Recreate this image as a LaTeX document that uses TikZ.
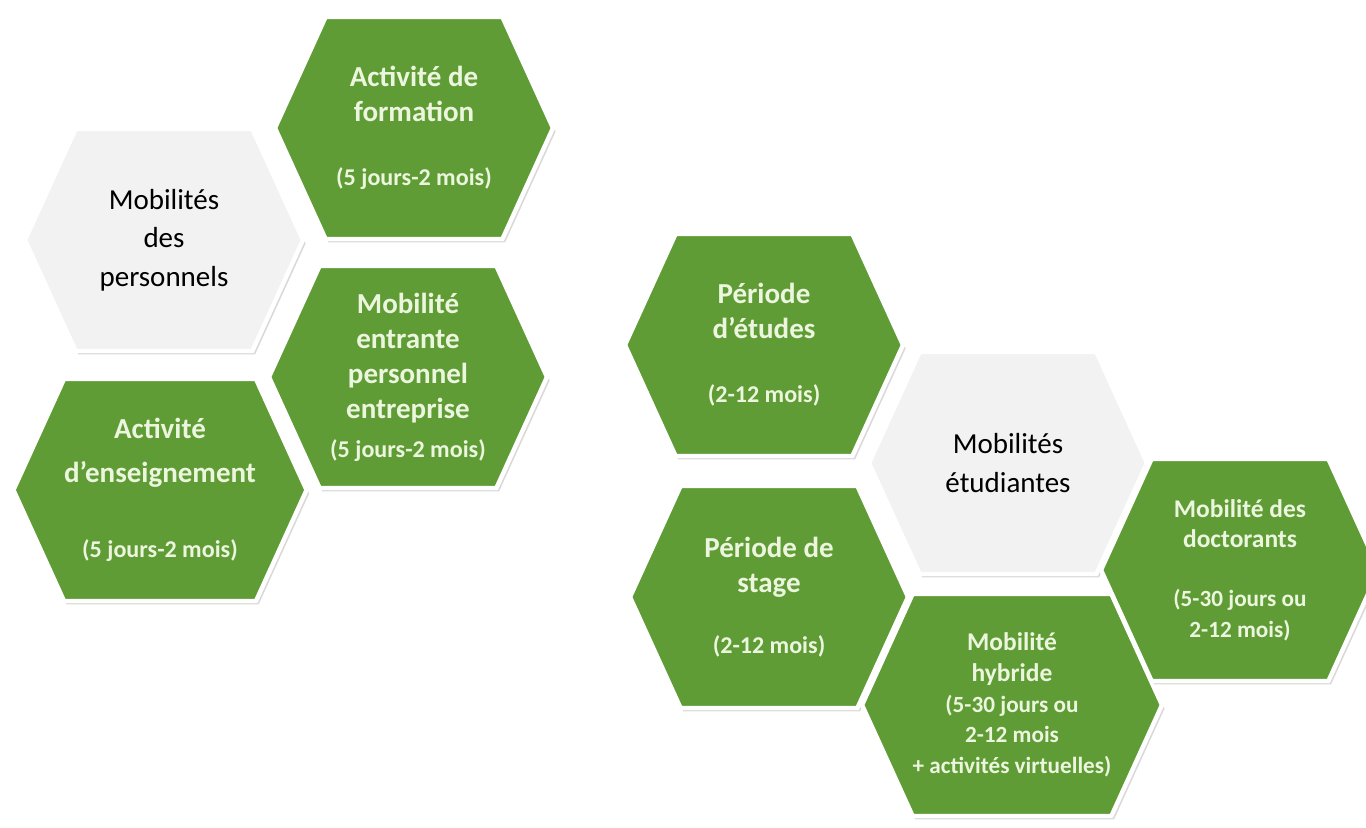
\documentclass[tikz,border=0pt]{standalone}
\usepackage{fontspec}
\setmainfont{Carlito}
\usetikzlibrary{shapes.symbols,shadows}
\definecolor{hexGreen}{RGB}{96,156,54}
\definecolor{hexText}{RGB}{236,246,222}
\definecolor{hexGrey}{RGB}{242,242,242}
\newcommand{\durfont}{\fontsize{13.7}{18}\selectfont}
\newcommand{\smallfont}{\fontsize{13.2}{16}\selectfont}

\begin{document}
\begin{tikzpicture}[x=0.02cm,y=-0.02cm]
\tikzstyle{hex}=[signal,signal to=west and east,signal pointer angle=131,minimum width=5.56cm,minimum height=4.44cm,inner sep=0pt,draw=white,line width=2.5pt,align=center,drop shadow={shadow xshift=1.5pt,shadow yshift=-2pt,opacity=.3}]
\tikzstyle{act}=[hex,fill=hexGreen,text=hexText,font=\fontsize{16.5}{20}\selectfont\bfseries]
\tikzstyle{actSmall}=[hex,fill=hexGreen,text=hexText,font=\fontsize{14.5}{17.5}\selectfont\bfseries]
\tikzstyle{cat}=[hex,fill=hexGrey,text=black,font=\fontsize{16.5}{22}\selectfont]

\useasboundingbox (0,0) rectangle (1366,828);

%staff mobility.
\node[cat] (staff) at (164,240) {Mobilités\\des\\personnels};
\node[act] (training) at (414,128) {Activité de\\formation\\[1em]{\durfont (5 jours-2 mois)}};
\node[act] (incoming) at (408,377) {Mobilité\\entrante\\personnel\\entreprise\\[2pt]{\durfont (5 jours-2 mois)}};
\node[act] (teaching) at (160,490) {Activité\\[5pt]d’enseignement\\[1.4em]{\durfont (5 jours-2 mois)}};

%student mobility.
\node[act] (studies) at (764,345) {Période\\d’études\\[1em]{\durfont (2-12 mois)}};
\node[act] (stage) at (769,597) {Période de\\stage\\[0.9em]{\durfont (2-12 mois)}};
\node[cat] (students) at (1008,463) {Mobilités\\étudiantes};
\node[actSmall] (hybrid) at (1012,705) {Mobilité\\hybride\\{\smallfont (5-30 jours ou}\\{\smallfont 2-12 mois}\\{\smallfont + activités virtuelles)}};
\node[actSmall] (phd) at (1240,570) {Mobilité des\\doctorants\\[1.1em]{\smallfont (5-30 jours ou}\\{\smallfont 2-12 mois)}};

\end{tikzpicture}
\end{document}
